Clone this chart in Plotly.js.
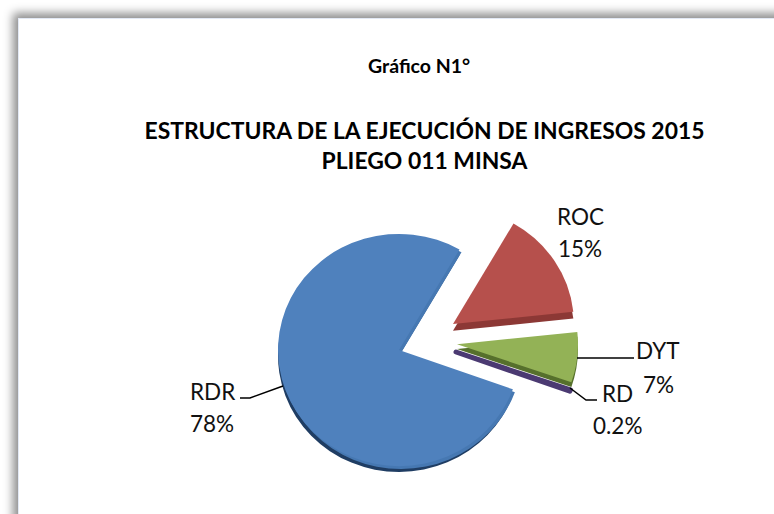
<!DOCTYPE html>
<html><head><meta charset="utf-8">
<script src="https://cdn.plot.ly/plotly-3.0.1.min.js"></script>
<style>
html,body{margin:0;padding:0;width:774px;height:514px;overflow:hidden;background:#fff}
#frame{position:absolute;left:18px;top:18px;width:800px;height:600px;background:#fff;border:1px solid #e3e9f5;box-shadow:-2px -2px 9px 3px #8f8f8f}
#chart{position:absolute;left:0;top:0;width:774px;height:514px}
</style></head><body>
<div id="frame"></div><div id="chart"></div>
<script>
const categories = ['ROC','DYT','RD','RDR'];
const values = [15,7,0.2,78];
const pctLabels = ['15%','7%','0.2%','78%'];
const topColors = ['#B6504C','#93B256','#4B3A72','#4F81BD'];
const sideColors = ['#8C3835','#56702C','#43325F','#1F3D63'];
const cutFaceBlue = '#4678B2';
const subtitle = 'Gráfico N1°';
const titleLines = ['ESTRUCTURA DE LA EJECUCIÓN DE INGRESOS 2015','PLIEGO 011 MINSA'];

const W=774,H=514,FONT='Lato, "Open Sans", sans-serif',NONE='rgba(0,0,0,0)';
const px=x=>x/W, py=y=>1-y/H;
const R=121, CY=351, SQUASH=0.96;
// Each slice is its own pie trace so it can be exploded to the spot it has in the picture.
function slice(i,color,cx,cy,lineW){
  return {type:'pie',labels:categories,values:values,sort:false,direction:'clockwise',rotation:30,
    textinfo:'none',hoverinfo:'skip',showlegend:false,
    marker:{colors:categories.map((c,k)=>k===i?color:NONE),
            line:{width:categories.map((c,k)=>k===i?lineW:0),color:color}},
    domain:{x:[px(cx-R),px(cx+R)],y:[py(cy+R),py(cy-R)]}};
}
const traces=[
  slice(3,sideColors[3],399,356,0),
  slice(3,cutFaceBlue,401,353,0),
  slice(3,topColors[3],399,350,0),
  slice(0,sideColors[0],453,330,0),
  slice(0,topColors[0],453,323,0),
  slice(2,topColors[2],456,352,5),
  slice(1,sideColors[1],457,349,0),
  slice(1,topColors[1],457,344,0)
];
const labelPos=[[580,216,248],[658,350,384],[617,393,425],[212,391,423]];
const annotations=[{text:'<b>'+subtitle+'</b>',x:px(419),y:py(65),xref:'paper',yref:'paper',showarrow:false,
  xanchor:'center',yanchor:'middle',font:{size:19.5,color:'#000',family:FONT}}];
categories.forEach((c,i)=>{
  annotations.push({text:c,x:px(labelPos[i][0]),y:py(labelPos[i][1]),xref:'paper',yref:'paper',showarrow:false,xanchor:'center',yanchor:'middle',font:{size:22.5,color:'#111',family:FONT}});
  annotations.push({text:pctLabels[i],x:px(labelPos[i][0]),y:py(labelPos[i][2]),xref:'paper',yref:'paper',showarrow:false,xanchor:'center',yanchor:'middle',font:{size:22.5,color:'#111',family:FONT}});
});
const leaders=[[[577,358],[634,358]],[[570,388],[586,400],[597,400]],[[283,386],[250,398],[240,398]]];
const shapes=leaders.map(p=>({type:'path',xref:'paper',yref:'paper',
  path:p.map((q,i)=>(i?'L':'M')+px(q[0])+','+py(q[1])).join(' '),line:{color:'#000',width:1.5}}));
Plotly.newPlot('chart',traces,{
  width:W,height:H,margin:{l:0,r:0,t:0,b:0},paper_bgcolor:NONE,plot_bgcolor:NONE,
  title:{text:'<b>'+titleLines.join('<br>')+'</b>',x:px(424.5),xanchor:'center',y:py(139),yanchor:'middle',font:{size:22.9,color:'#000',family:FONT}},
  annotations:annotations,shapes:shapes
},{displayModeBar:false,staticPlot:true}).then(gd=>{
  // The reference pie is seen slightly from above: flatten the drawn pie layer a little.
  const layer=gd.querySelector('.pielayer');
  if(layer) layer.setAttribute('transform','translate(0,'+CY+') scale(1,'+SQUASH+') translate(0,'+(-CY)+')');
});
</script></body></html>
